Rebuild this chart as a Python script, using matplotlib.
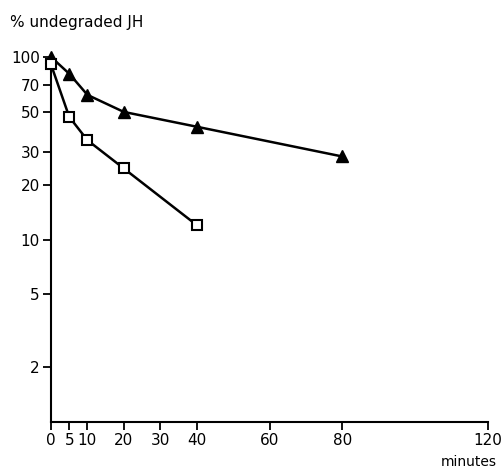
import matplotlib
matplotlib.use("Agg")
import matplotlib.pyplot as plt

# data
time_tri = [0, 5, 10, 20, 40, 80]
val_tri = [100, 81, 62, 50, 41.5, 28.5]
time_sq = [0, 5, 10, 20, 40]
val_sq = [91, 47, 35, 24.5, 12]
x_ticks = [0, 5, 10, 20, 30, 40, 60, 80, 120]
y_ticks = [2, 5, 10, 20, 30, 50, 70, 100]

plt.rcParams['font.family'] = ['DejaVu Sans']
fig = plt.figure(figsize=(5.02, 4.70), dpi=100)
ax = fig.add_axes([51/502, 48/470, 437/502, 365/470])

ax.plot(time_tri, val_tri, color='black', lw=1.8, marker='^', ms=9,
        mfc='black', mec='black', clip_on=False, zorder=3)
ax.plot(time_sq, val_sq, color='black', lw=1.8, marker='s', ms=7,
        mfc='white', mec='black', mew=1.5, clip_on=False, zorder=3)

ax.set_yscale('log')
ax.set_xlim(0, 120)
ax.set_ylim(1, 100)
ax.set_xticks(x_ticks)
ax.set_xticklabels([str(t) for t in x_ticks])
ax.set_yticks(y_ticks)
ax.set_yticklabels([str(t) for t in y_ticks])
ax.minorticks_off()
ax.yaxis.set_minor_locator(matplotlib.ticker.NullLocator())

for s in ['top', 'right']:
    ax.spines[s].set_visible(False)
for s in ['left', 'bottom']:
    ax.spines[s].set_linewidth(1.5)
ax.tick_params(direction='out', length=6, width=1.3, labelsize=11, pad=2, colors='black')

fig.text(10/502, 1 - 22/470, '% undegraded JH', fontsize=11, ha='left', va='center')
fig.text(497/502, 1 - 462/470, 'minutes', fontsize=10, ha='right', va='center')

fig.savefig('out.png', dpi=100)
